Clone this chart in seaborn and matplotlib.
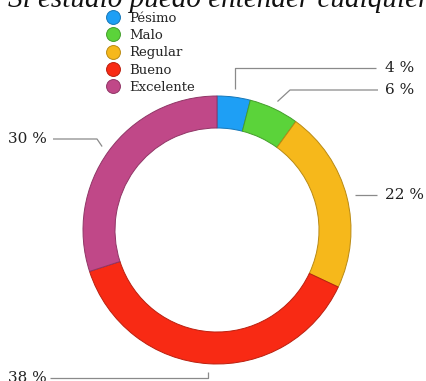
import numpy as np
import matplotlib
matplotlib.use("Agg")
import matplotlib.pyplot as plt
from matplotlib.lines import Line2D
import matplotlib.colors as mcolors
import seaborn as sns

# Survey answers and their share of responses (%)
categories = ["Pésimo", "Malo", "Regular", "Bueno", "Excelente"]
shares = [4, 6, 22, 38, 30]
value_labels = ["4 %", "6 %", "22 %", "38 %", "30 %"]
title = "Si estudio puedo entender cualquier"

colors = ["#1e9ff5", "#5bd33a", "#f6b81b", "#f82a14", "#c04888"]

sns.set_theme(style="white")
plt.rcParams["font.family"] = ["DejaVu Serif", "DejaVu Sans"]

W, H = 426, 381
fig = plt.figure(figsize=(W / 100, H / 100), dpi=100)
ax = fig.add_axes([0, 0, 1, 1])


def py(y):
    """Convert a top-down pixel row into the axes' upward y coordinate."""
    return H - y


cx, cy = 217, 230
r_out, ring = 134, 32

edge = [tuple(np.array(mcolors.to_rgb(c)) * 0.75) for c in colors]
wedges, _ = ax.pie(
    shares,
    colors=colors,
    startangle=90,
    counterclock=False,
    center=(cx, py(cy)),
    radius=r_out,
    wedgeprops=dict(width=ring, linewidth=0.7),
    frame=True,
)
for w, e in zip(wedges, edge):
    w.set_edgecolor(e)
ax.set_xlim(0, W)
ax.set_ylim(0, H)
ax.set_aspect("equal")
ax.axis("off")

# Leader lines: from just outside each wedge's middle, via an elbow, to the label
elbows = [(None, 68), (290, 90), (None, None), (None, 378), (97, 139)]
ends = [376, 378, 377, 50, 53]
text_x = [385, 385, 385, 8, 8]
gap = 8
cum = np.cumsum([0] + shares[:-1])
for i, s in enumerate(shares):
    mid = np.deg2rad(90 - (cum[i] + s / 2) * 3.6)
    ax_x = cx + (r_out + gap) * np.cos(mid)
    ax_y = cy - (r_out + gap) * np.sin(mid)
    ex, ey = elbows[i]
    ex = ax_x if ex is None else ex
    ey = ax_y if ey is None else ey
    xs = [ax_x, ex, ends[i]]
    ys = [ax_y, ey, ey]
    ax.plot(xs, [py(v) for v in ys], color="#8a8a8a", lw=0.9,
            solid_capstyle="butt")
    ax.text(text_x[i], py(ey), value_labels[i], ha="left", va="center",
            fontsize=11, color="#222222")

# Legend with round markers
handles = [
    Line2D([], [], marker="o", linestyle="none", markersize=10,
           markerfacecolor=c, markeredgecolor=e, markeredgewidth=0.7)
    for c, e in zip(colors, edge)
]
fig.legend(handles, categories, loc="upper left",
           bbox_to_anchor=(98 / W, 1 - 5 / H), frameon=False,
           fontsize=9.5, labelspacing=0.33, handletextpad=0.65,
           borderpad=0, handlelength=1.2)

# Title, partly running off the top edge
fig.text(8 / W, 1 - 7 / H, title, ha="left", va="baseline",
         fontsize=21, style="italic", family=["Liberation Serif"],
         color="#111111")

fig.savefig("out.png", dpi=100)
